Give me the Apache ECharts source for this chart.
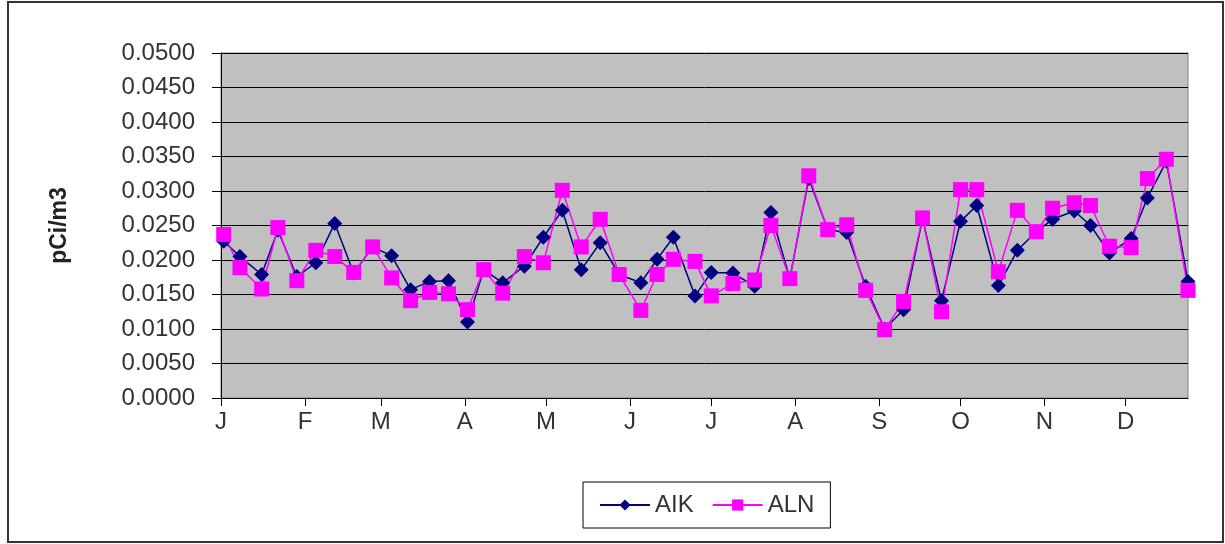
<!DOCTYPE html>
<html>
<head>
<meta charset="utf-8">
<script src="https://cdn.jsdelivr.net/npm/echarts@6/dist/echarts.min.js"></script>
<style>
  html, body { margin: 0; padding: 0; background: #fff; }
  #chart { width: 1225px; height: 544px; }
</style>
</head>
<body>
<div id="chart"></div>
<script>
// sample dates (weekly filters), one year
const sampleDates = [
  '01-02', '01-08', '01-16', '01-22', '01-29', '02-05', '02-12', '02-19', '02-26',
  '03-05', '03-12', '03-19', '03-26', '04-02', '04-08', '04-15', '04-23', '04-30',
  '05-07', '05-14', '05-21', '05-28', '06-05', '06-11', '06-17', '06-25', '07-01',
  '07-09', '07-17', '07-23', '07-30', '08-06', '08-13', '08-20', '08-27', '09-03',
  '09-10', '09-17', '09-24', '10-01', '10-07', '10-15', '10-22', '10-29', '11-04',
  '11-12', '11-18', '11-25', '12-03', '12-09', '12-16', '12-24'
]
const aikValues = [
  0.0227, 0.0205, 0.0179, 0.0243, 0.0176, 0.0196, 0.0253, 0.0181, 0.0219,
  0.0206, 0.0157, 0.0169, 0.0170, 0.0110, 0.0186, 0.0167, 0.0191, 0.0233,
  0.0272, 0.0186, 0.0225, 0.0179, 0.0167, 0.0201, 0.0233, 0.0148, 0.0182,
  0.0181, 0.0162, 0.0269, 0.0173, 0.0318, 0.0244, 0.0240, 0.0162, 0.0100,
  0.0128, 0.0260, 0.0141, 0.0256, 0.0279, 0.0163, 0.0214, 0.0241, 0.0259,
  0.0271, 0.0250, 0.0210, 0.0231, 0.0290, 0.0343, 0.0169
]
const alnValues = [
  0.0237, 0.0189, 0.0158, 0.0247, 0.0170, 0.0214, 0.0205, 0.0182, 0.0219,
  0.0174, 0.0141, 0.0153, 0.0151, 0.0128, 0.0186, 0.0152, 0.0205, 0.0196,
  0.0301, 0.0219, 0.0259, 0.0179, 0.0127, 0.0179, 0.0201, 0.0198, 0.0148,
  0.0166, 0.0171, 0.0250, 0.0173, 0.0322, 0.0244, 0.0251, 0.0156, 0.0099,
  0.0140, 0.0261, 0.0125, 0.0302, 0.0302, 0.0183, 0.0272, 0.0241, 0.0275,
  0.0283, 0.0279, 0.0220, 0.0218, 0.0318, 0.0346, 0.0156
]
const monthLabels = ['J', 'F', 'M', 'A', 'M', 'J', 'J', 'A', 'S', 'O', 'N', 'D']
const year = 2007

const dayMs = 24 * 3600 * 1000
const jan1 = Date.UTC(year, 0, 1)
function dayOfYear(md) {
  const [m, d] = md.split('-').map(Number)
  return (Date.UTC(year, m - 1, d) - jan1) / dayMs
}
const days = sampleDates.map(dayOfYear)
const monthStarts = monthLabels.map((_, i) => (Date.UTC(year, i, 1) - jan1) / dayMs)

const font = '"Liberation Sans", Arial, sans-serif'
const chart = echarts.init(document.getElementById('chart'))
chart.setOption({
  backgroundColor: '#fff',
  animation: false,
  textStyle: { fontFamily: font },
  graphic: [{
    type: 'rect',
    shape: { x: 8, y: 2, width: 1215, height: 540 },
    style: { fill: 'none', stroke: '#333', lineWidth: 2 },
    silent: true
  }],
  grid: {
    left: 221,
    right: 37,
    top: 53,
    bottom: 146,
    show: true,
    backgroundColor: '#c0c0c0',
    borderColor: '#808080',
    borderWidth: 1
  },
  legend: {
    left: 583,
    top: 482,
    orient: 'horizontal',
    itemWidth: 50,
    itemHeight: 14,
    itemGap: 18,
    padding: [11, 16, 11, 16],
    borderColor: '#000',
    borderWidth: 1,
    backgroundColor: '#fff',
    textStyle: { fontSize: 24, color: '#333', fontFamily: font },
    data: ['AIK', 'ALN']
  },
  xAxis: {
    type: 'value',
    min: 0,
    max: days[days.length - 1],
    axisLine: { onZero: false, lineStyle: { color: '#000', width: 1 } },
    axisTick: {
      show: true,
      length: 8,
      customValues: monthStarts,
      lineStyle: { color: '#000' }
    },
    axisLabel: {
      customValues: monthStarts,
      margin: 12,
      fontSize: 24,
      color: '#333',
      formatter(v) {
        const i = monthStarts.indexOf(v)
        return i >= 0 ? monthLabels[i] : ''
      }
    },
    splitLine: { show: false }
  },
  yAxis: {
    type: 'value',
    min: 0,
    max: 0.05,
    interval: 0.005,
    name: 'pCi/m3',
    nameLocation: 'middle',
    nameRotate: 90,
    nameGap: 150,
    nameTextStyle: { fontSize: 23, fontWeight: 'bold', color: '#222' },
    axisLine: { show: true, lineStyle: { color: '#000', width: 1 } },
    axisTick: { show: true, length: 9, lineStyle: { color: '#000' } },
    axisLabel: {
      margin: 26,
      fontSize: 24,
      color: '#333',
      formatter(v) { return v.toFixed(4) }
    },
    splitLine: { show: true, lineStyle: { color: '#000', width: 1 } }
  },
  series: [
    {
      name: 'AIK',
      type: 'line',
      data: days.map((d, i) => [d, aikValues[i]]),
      symbol: 'diamond',
      symbolSize: 15,
      color: '#000080',
      lineStyle: { color: '#000080', width: 1.5 },
      itemStyle: { color: '#000080' }
    },
    {
      name: 'ALN',
      type: 'line',
      data: days.map((d, i) => [d, alnValues[i]]),
      symbol: 'rect',
      symbolSize: 15,
      color: '#ff00ff',
      lineStyle: { color: '#ff00ff', width: 1.5 },
      itemStyle: { color: '#ff00ff' }
    }
  ]
})
</script>
</body>
</html>
